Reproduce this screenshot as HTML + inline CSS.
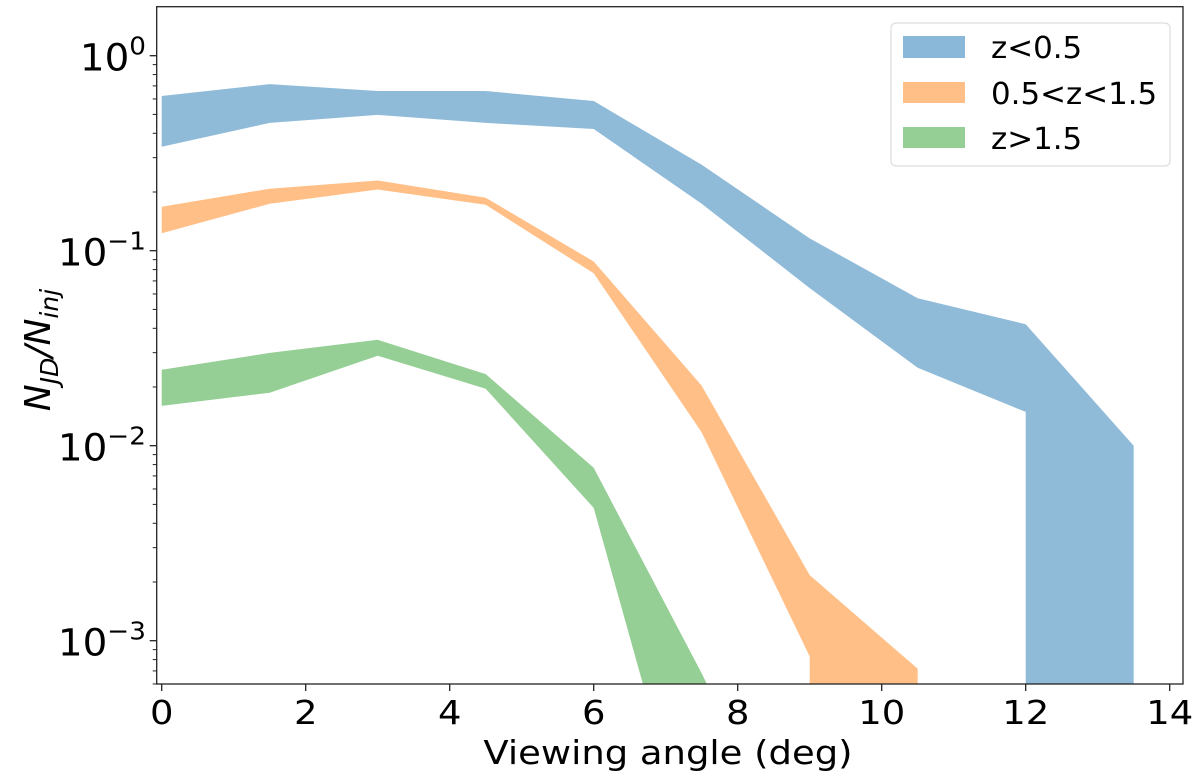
<!DOCTYPE html>
<html><head><meta charset="utf-8"><style>
html,body{margin:0;padding:0;background:#fff;overflow:hidden;width:1200px;height:780px;}
svg{display:block;}
svg text{font-family:"DejaVu Sans","Liberation Sans",sans-serif;fill:#000;}
</style></head><body>
<svg id="chart" width="1200" height="780" viewBox="0 0 1200 780" xmlns="http://www.w3.org/2000/svg">
<defs><clipPath id="plotclip"><rect x="156.7" y="6.7" width="1026.3" height="677.3"/></clipPath></defs>
<g id="bands" clip-path="url(#plotclip)"></g>
<rect x="156.7" y="6.7" width="1026.3" height="677.3" fill="none" stroke="#222" stroke-width="1.3"/>
<g id="xticks"></g>
<g id="yticks"></g>
<text transform="translate(668,764) scale(1.12,1)" font-size="33" text-anchor="middle">Viewing angle (deg)</text>
<text transform="translate(50,350) rotate(-90)" font-size="36" font-style="italic" text-anchor="middle">N<tspan font-size="25" dy="8">JD</tspan><tspan dy="-8">/N</tspan><tspan font-size="25" dy="8">inj</tspan></text>
<g>
<rect x="891" y="23" width="279" height="143" rx="5" fill="#fff" fill-opacity="0.8" stroke="#ddd" stroke-width="1.2"/>
<rect x="903" y="36" width="62" height="22" fill="#1f77b4" fill-opacity="0.52"/>
<text transform="translate(991,58) scale(1.03,1)" font-size="30">z&lt;0.5</text>
<rect x="903" y="82" width="62" height="21" fill="#ff7f0e" fill-opacity="0.5"/>
<text transform="translate(991,104) scale(1.03,1)" font-size="30">0.5&lt;z&lt;1.5</text>
<rect x="903" y="127" width="62" height="21" fill="#2ca02c" fill-opacity="0.5"/>
<text transform="translate(991,149) scale(1.03,1)" font-size="30">z&gt;1.5</text>
</g>
</svg>
<script>
const angles = [0, 1.5, 3, 4.5, 6, 7.5, 9, 10.5, 12, 13.5];
const blueUpper = [0.621, 0.715, 0.659, 0.659, 0.586, 0.276, 0.1156, 0.057, 0.042, 0.010];
const blueLower = [0.341, 0.452, 0.497, 0.452, 0.421, 0.174, 0.0643, 0.0251, 0.0149, 0];
const orangeAngles = [0, 1.5, 3, 4.5, 6, 7.5, 9, 10.5];
const orangeUpper = [0.168, 0.208, 0.229, 0.187, 0.088, 0.0203, 0.00217, 0.000718];
const orangeLower = [0.123, 0.174, 0.206, 0.172, 0.0766, 0.0117, 0.00083, 0];
const greenAngles = [0, 1.5, 3, 4.5, 6, 7.5, 9];
const greenUpper = [0.0245, 0.0299, 0.0349, 0.0233, 0.0077, 0.00068, 0.00005];
const greenLower = [0.016, 0.0187, 0.0289, 0.0196, 0.0048, 0.00005, 0];
const xTickValues = [0, 2, 4, 6, 8, 10, 12, 14];
const yTickExponents = [0, -1, -2, -3];

const NS = "http://www.w3.org/2000/svg";
const X0 = 161.7, XS = 72.0;
const Y0 = 55.7, YS = 195.0, BOTTOM = 684;
function xs(v){ return X0 + v * XS; }
function ys(v){ return v > 0 ? Y0 - YS * Math.log10(v) : 5000; }

function edge(xv, yv){
  const pts = [];
  for (let i = 0; i < xv.length; i++) {
    if (yv[i] <= 0) {
      const px = i > 0 ? xv[i-1] : xv[i];
      pts.push([xs(px), 5000]); pts.push([xs(xv[i]), 5000]);
    } else pts.push([xs(xv[i]), ys(yv[i])]);
  }
  return pts;
}
function clipBottom(poly, yMax){
  const out = [];
  for (let i = 0; i < poly.length; i++) {
    const a = poly[i], b = poly[(i + 1) % poly.length];
    const ain = a[1] <= yMax, bin = b[1] <= yMax;
    if (ain) out.push(a);
    if (ain !== bin) {
      const t = (yMax - a[1]) / (b[1] - a[1]);
      out.push([a[0] + t * (b[0] - a[0]), yMax]);
    }
  }
  return out;
}
function band(xv, up, lo, color, name){
  const top = edge(xv, up), bot = edge(xv, lo).reverse();
  const poly = clipBottom(top.concat(bot), BOTTOM);
  const d = poly.map((p,i)=>(i?'L':'M')+p[0].toFixed(1)+','+p[1].toFixed(1)).join('')+'Z';
  const path = document.createElementNS(NS, 'path');
  path.setAttribute('d', d);
  path.setAttribute('fill', color);
  path.setAttribute('fill-opacity', '0.5');
  
  
  document.getElementById('bands').appendChild(path);
}
band(angles, blueUpper, blueLower, '#1f77b4', 'band-low-z');
band(orangeAngles, orangeUpper, orangeLower, '#ff7f0e', 'band-mid-z');
band(greenAngles, greenUpper, greenLower, '#2ca02c', 'band-high-z');

const xg = document.getElementById('xticks');
xTickValues.forEach(v => {
  const l = document.createElementNS(NS, 'line');
  l.setAttribute('x1', xs(v)); l.setAttribute('x2', xs(v));
  l.setAttribute('y1', BOTTOM); l.setAttribute('y2', BOTTOM + 7);
  l.setAttribute('stroke', '#222'); l.setAttribute('stroke-width', '1.3');
  
  
  xg.appendChild(l);
  const t = document.createElementNS(NS, 'text');
  t.setAttribute('transform', 'translate(' + xs(v) + ',724) scale(1.12,1)');
  t.setAttribute('font-size', '33'); t.setAttribute('text-anchor', 'middle');
  t.textContent = String(v);
  
  
  xg.appendChild(t);
});

const yg = document.getElementById('yticks');
yTickExponents.forEach(e => {
  const y = ys(Math.pow(10, e));
  const l = document.createElementNS(NS, 'line');
  l.setAttribute('x1', 149.7); l.setAttribute('x2', 156.7);
  l.setAttribute('y1', y); l.setAttribute('y2', y);
  l.setAttribute('stroke', '#222'); l.setAttribute('stroke-width', '1.3');
  
  
  yg.appendChild(l);
  const t = document.createElementNS(NS, 'text');
  t.setAttribute('transform', 'translate(146,' + (y + 15) + ') scale(1.05,1)');
  t.setAttribute('font-size', '37'); t.setAttribute('text-anchor', 'end');
  const sup = e === 0 ? '0' : '\u2212' + Math.abs(e);
  t.innerHTML = '10<tspan font-size="25" dy="-16">' + sup + '</tspan>';
  
  
  yg.appendChild(t);
});
for (let e = -4; e <= 0; e++) {
  for (let m = 2; m <= 9; m++) {
    const y = ys(m * Math.pow(10, e));
    if (y < 7 || y > BOTTOM) continue;
    const l = document.createElementNS(NS, 'line');
    l.setAttribute('x1', 152.7); l.setAttribute('x2', 156.7);
    l.setAttribute('y1', y); l.setAttribute('y2', y);
    l.setAttribute('stroke', '#222'); l.setAttribute('stroke-width', '1');
    
    
    yg.appendChild(l);
  }
}
</script>
</body></html>
